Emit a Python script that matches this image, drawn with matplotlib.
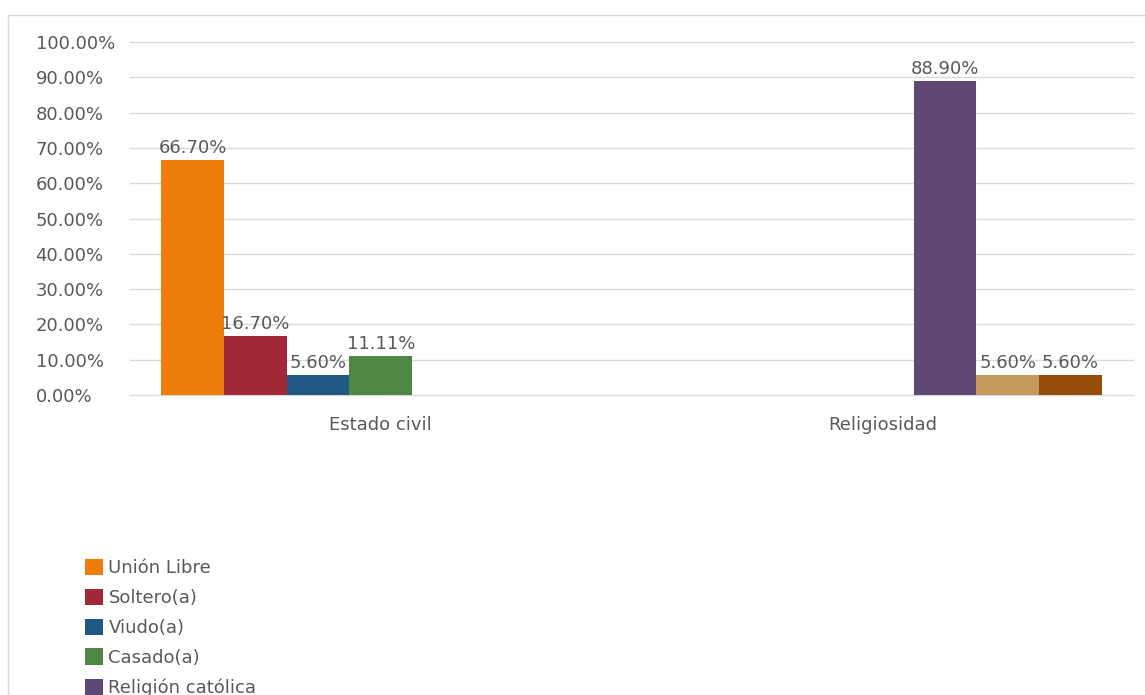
import numpy as np
import matplotlib.pyplot as plt
from matplotlib.patches import Rectangle

# datos
categorias = ['Estado civil', 'Religiosidad']
series = ['Unión Libre', 'Soltero(a)', 'Viudo(a)', 'Casado(a)',
          'Religión católica', 'Religión cristiana', 'Ninguna']
union_libre = [0.667, np.nan]
soltero = [0.167, np.nan]
viudo = [0.056, np.nan]
casado = [0.1111, np.nan]
rel_catolica = [np.nan, 0.889]
rel_cristiana = [np.nan, 0.056]
ninguna = [np.nan, 0.056]
valores = [union_libre, soltero, viudo, casado, rel_catolica, rel_cristiana, ninguna]
colores = ['#EE7D0B', '#A12836', '#1F5882', '#4E8743', '#5F4874', '#C49A5C', '#944C08']
yticks = np.arange(0, 1.01, 0.1)

plt.rcParams['font.family'] = ['DejaVu Sans']
gris = '#595959'

W, H = 1145, 695
fig = plt.figure(figsize=(W / 100, H / 100), dpi=100)
fig.patches.append(Rectangle((8 / W, -0.1), 1.2, 1.1 - 15 / H, transform=fig.transFigure,
                             fill=False, edgecolor='#D9D9D9', linewidth=1))
ax = fig.add_axes([130 / W, 1 - 395 / H, (1133 - 130) / W, (395 - 42) / H])

n = len(series)
ancho = 1 / (n + 1)
x = np.arange(len(categorias))
handles = []
for j, (nombre, vals, col) in enumerate(zip(series, valores, colores)):
    vals = np.array(vals, dtype=float)
    pos = x + (j - (n - 1) / 2) * ancho
    m = ~np.isnan(vals)
    b = ax.bar(pos[m], vals[m], width=ancho, color=col, label=nombre, zorder=3)
    handles.append(b)
    for xi, v in zip(pos[m], vals[m]):
        ax.annotate(f'{v * 100:.2f}%', (xi, v), xytext=(0, 2), textcoords='offset points',
                    ha='center', va='bottom', fontsize=13, color=gris, zorder=4)

ax.set_xlim(-0.5, len(categorias) - 0.5)
ax.set_ylim(0, 1.0)
ax.set_xticks(x)
ax.set_xticklabels(categorias)
ax.set_yticks(yticks)
ax.set_yticklabels([f'{t * 100:.2f}%' for t in yticks])
ax.tick_params(axis='both', length=0, labelsize=13, labelcolor=gris)
ax.tick_params(axis='x', pad=15)
ax.tick_params(axis='y', pad=68)
for lab in ax.get_yticklabels():
    lab.set_horizontalalignment('left')
ax.grid(axis='y', color='#D9D9D9', linewidth=1, zorder=0)
for gl in ax.get_ygridlines():
    gl.set_clip_on(False)
for s in ax.spines.values():
    s.set_visible(False)

fig.legend(handles=handles, labels=series, loc='upper left',
           bbox_to_anchor=(85 / W, 1 - 559 / H), frameon=False, borderpad=0,
           borderaxespad=0, fontsize=13, labelcolor=gris, handlelength=1.0,
           handleheight=1.0, handletextpad=0.3, labelspacing=0.64)

plt.savefig('out.png', dpi=100)
plt.close()
